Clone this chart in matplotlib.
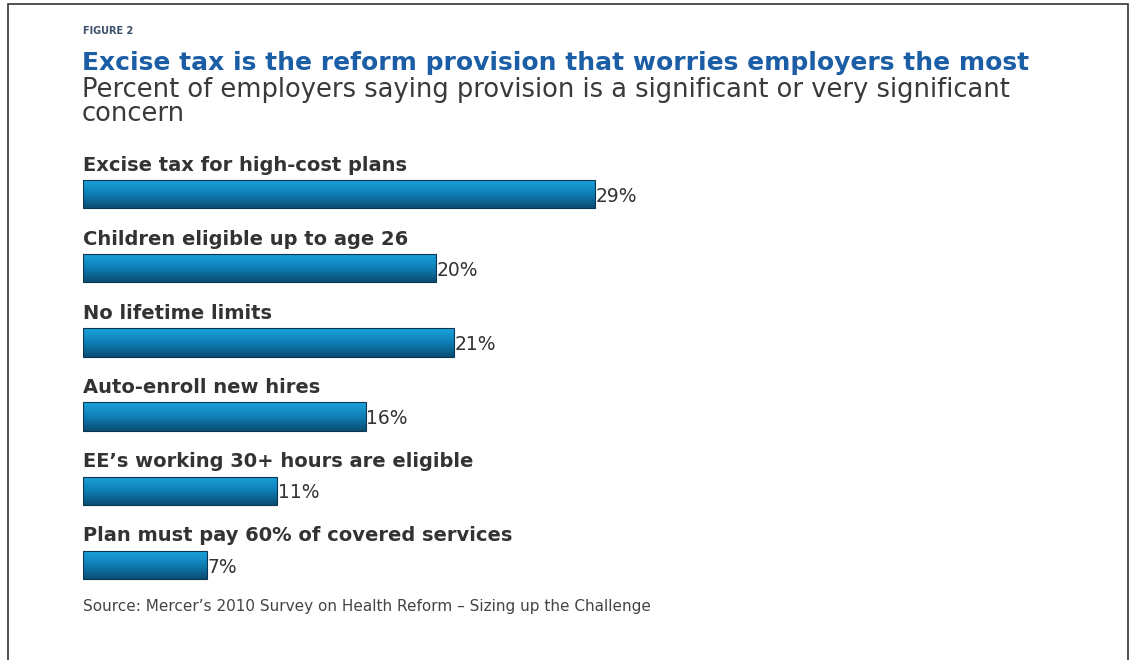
import numpy as np
import matplotlib.pyplot as plt
from matplotlib.colors import LinearSegmentedColormap
from matplotlib.patches import Rectangle

provisions = [
    "Excise tax for high-cost plans",
    "Children eligible up to age 26",
    "No lifetime limits",
    "Auto-enroll new hires",
    "EE\u2019s working 30+ hours are eligible",
    "Plan must pay 60% of covered services",
]
pct = [29, 20, 21, 16, 11, 7]

W, H = 1136, 660
fig = plt.figure(figsize=(W / 100, H / 100), dpi=100)
fig.patch.set_facecolor("white")
plt.rcParams['font.family'] = ['DejaVu Sans']

def fx(px):
    return px / W

def fy(py):
    return 1 - py / H

# frame around the figure
fig.add_artist(Rectangle((fx(8), fy(700)), fx(1120), 696 / H, transform=fig.transFigure,
                         fill=False, edgecolor="#333333", lw=1.2))

fig.text(fx(83), fy(31), "FIGURE 2", fontsize=7, fontweight="bold", color="#3a4f6a", va="center")
fig.text(fx(82), fy(63), "Excise tax is the reform provision that worries employers the most",
         fontsize=18, fontweight="bold", color="#1b5ea6", va="center")
fig.text(fx(82), fy(90), "Percent of employers saying provision is a significant or very significant",
         fontsize=18.5, color="#3a3a3a", va="center")
fig.text(fx(82), fy(114), "concern", fontsize=18.5, color="#3a3a3a", va="center")
fig.text(fx(83), fy(607), "Source: Mercer\u2019s 2010 Survey on Health Reform \u2013 Sizing up the Challenge",
         fontsize=11, color="#444444", va="center")

# bar axes: 0..35 % across 83..701 px, rows centred at 194..565 px
top, bottom = 157, 602
ax = fig.add_axes([fx(83), fy(bottom), fx(701 - 83), (bottom - top) / H])
ax.set_xlim(0, 35)
ax.set_ylim(len(pct) - 0.5, -0.5)
ax.axis("off")

grad = LinearSegmentedColormap.from_list("bar", ["#1ba3dc", "#0f7fb6", "#0a4d73"])
bh = 0.38
y = np.arange(len(pct))
bars = ax.barh(y, pct, height=bh, color="none", edgecolor="#0b3550", lw=0.8, zorder=3)
for b, v, i in zip(bars, pct, y):
    img = ax.imshow(np.linspace(0, 1, 64).reshape(-1, 1), cmap=grad, aspect="auto",
                    extent=[0, v, i + bh / 2, i - bh / 2], zorder=2)
    img.set_clip_path(b)
    ax.text(v + 0.05, i + 0.03, f"{v}%", fontsize=13.5, color="#333333", va="center", ha="left")
    ax.text(0, i - 0.39, provisions[i], fontsize=14, fontweight="bold", color="#333333",
            va="center", ha="left")
ax.set_xlim(0, 35)
ax.set_ylim(len(pct) - 0.5, -0.5)

fig.savefig("out.png", dpi=100, facecolor="white")
